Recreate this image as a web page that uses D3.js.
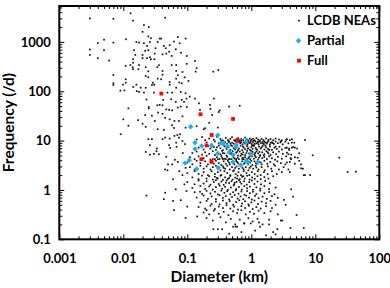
<!DOCTYPE html>
<html>
<head>
<meta charset="utf-8">
<script src="https://cdn.jsdelivr.net/npm/d3@7"></script>
<style>
  body { margin: 0; background: #fff; }
  svg text { font-family: Lato, "Liberation Sans", sans-serif; font-weight: 700; fill: #000; }
</style>
</head>
<body>
<svg id="chart" width="390" height="288"></svg>
<script>
// [diameter km, frequency /d]
const neaPoints = [
  // sparse upper-left
  [0.003,3000],[0.007,2950],[0.013,3800],[0.0142,2700],[0.045,3100],[0.021,2200],[0.025,2000],[0.02,1600],[0.0246,1300],[0.027,1190],
  [0.037,1170],[0.039,1170],[0.071,1260],[0.094,1170],[0.004,950],[0.005,1110],[0.007,970],[0.011,1130],[0.016,1000],[0.0176,970],
  [0.021,940],[0.026,1000],[0.0235,830],[0.032,745],[0.0345,1000],[0.043,830],[0.046,745],[0.053,860],[0.062,1015],[0.076,940],
  [0.066,710],[0.003,700],[0.003,545],[0.005,680],[0.004,470],[0.006,420],[0.0147,680],[0.0154,545],[0.02,545],[0.02,470],
  [0.022,660],[0.0246,680],[0.0235,470],[0.026,490],[0.027,446],[0.0305,446],[0.031,580],[0.041,560],[0.047,580],[0.052,635],
  [0.057,520],[0.08,606],[0.098,520],[0.0142,446],[0.0142,380],[0.0129,340],[0.014,307],[0.0142,280],[0.0109,326],[0.0176,340],
  [0.0172,280],[0.036,337],[0.034,307],[0.0224,307],[0.057,340],[0.067,340],[0.098,360],[0.0246,254],[0.041,258],[0.041,217],
  [0.067,258],[0.071,211],[0.067,180],[0.084,246],[0.091,192],[0.007,214],[0.0109,175],[0.0224,204],[0.0246,192],[0.0345,180],
  [0.039,175],[0.029,149],[0.0305,136],[0.028,134],[0.007,145],[0.007,134],[0.0099,136],[0.016,136],[0.053,154],[0.053,136],
  [0.075,151],[0.082,145],[0.104,162],[0.0109,149],[0.0104,104],
  // middle left
  [0.0143,122],[0.0187,118],[0.0224,118],[0.009,103],[0.0162,101],[0.0176,97],[0.021,94],[0.03,94],[0.049,94],[0.058,94],
  [0.067,118],[0.079,97],[0.094,91],[0.023,68],[0.042,67],[0.056,69],[0.066,61],[0.082,67],[0.089,61],[0.097,71],
  [0.012,45],[0.025,48],[0.025,45],[0.034,52],[0.037,53],[0.041,52],[0.047,43],[0.052,42],[0.058,41],[0.071,47],
  [0.079,49],[0.098,48],[0.035,37],[0.041,35],[0.045,29],[0.022,33],[0.028,32],[0.01,27],[0.017,26],[0.02,22],
  [0.031,25],[0.053,27],[0.063,25],[0.074,25],[0.084,31],[0.012,20],[0.0224,19],[0.0345,17],[0.043,16.5],[0.058,20.5],
  [0.062,18],[0.094,18.3],[0.0091,13.5],[0.0246,10.7],[0.028,10.7],[0.026,8.1],[0.0336,6.9],[0.033,6.1],[0.041,10.7],[0.045,11.5],
  [0.053,11],[0.052,8.1],[0.054,7.1],[0.063,12.5],[0.07,13],[0.074,11.5],[0.077,13.5],[0.067,9.1],[0.068,7.5],[0.084,9.8],
  [0.092,8.5],[0.0224,5.9],[0.026,5.2],[0.03,5.4],[0.036,5.3],[0.047,4.7],[0.064,4.1],[0.071,3.7],[0.058,3.3],
  // above the cluster
  [0.109,78],[0.132,71],[0.152,57],[0.26,71],[0.32,41],[0.66,51],[0.22,23],[0.245,33],[0.3,18.4],[0.18,17],
  [0.14,19.6],[0.23,44],[0.31,38],[0.45,49],[0.255,250],[0.305,270],[0.132,412],[0.14,293],[0.135,250],[0.189,17.8],
  [0.226,53],[0.158,42],
  // right side
  [3.6,10.7],[4.3,10.7],[4.7,9.1],[6.9,10.3],[3.6,7.2],[3.9,6.9],[4.3,7.2],[4.8,7.2],[3.8,5.3],[4.2,4.2],
  [5.3,4.5],[5.6,5.55],[3.6,3.6],[6.0,3.3],[9.1,5.05],[23.7,4.5],[43,2.35],[6.9,2.0],[6.0,2.75],
  // lower left and bottom
  [0.045,2.6],[0.049,2.5],[0.094,2.8],[0.06,1.65],[0.084,2.0],[0.023,0.77],[0.045,0.88],[0.066,1.03],[0.043,0.65],[0.06,0.6],
  [0.062,0.39],[0.097,0.95],[0.079,0.62],[0.1,0.46],[0.094,0.27],[0.05,3.3],[0.075,2.4],[0.085,5.6],[0.09,1.3],
  [4.0,2.3],[6.4,2.7],[6.6,1.99],[8.3,2.0],[32,2.3],[3.24,0.63],[3.45,0.5],[4.2,1.03],[5.1,0.31],[3.05,0.24],
  [4.1,0.17],[6.6,0.17],[2.4,0.126],[2.55,0.16],[1.89,0.2],[1.32,0.22],[1.37,0.18],[0.98,0.21],[0.77,0.21],[0.6,0.18],
  [0.57,0.18],[0.255,0.16],[0.3,0.16],[0.52,0.18],[0.143,0.29],[0.2,0.39],[0.158,0.92],[2.9,0.24],[4.5,0.73],
  // cluster, F 10-12
  [0.14,10.5],[0.17,11.8],[0.19,10.2],[0.22,11],[0.26,10.4],[0.29,12],[0.33,10.8],[0.36,10.1],[0.4,11.4],[0.43,10.3],
  [0.47,10.9],[0.5,11.7],[0.54,10.2],[0.58,10.6],[0.62,11.2],[0.66,10.1],[0.7,10.8],[0.75,10.3],[0.8,11.5],[0.85,10.6],
  [0.9,10.1],[0.95,11],[1.0,10.4],[1.06,10.9],[1.12,10.2],[1.2,11.3],[1.28,10.5],[1.35,10.1],[1.45,10.8],[1.55,10.3],
  [1.7,11.1],[1.85,10.4],[2.0,10.7],[2.2,10.2],[2.4,11],[2.7,10.5],[3.0,10.1],[3.5,10.4],[4.0,10.2],
  // F 8-10
  [0.2,9.2],[0.24,8.4],[0.27,9.6],[0.31,8.8],[0.34,9.9],[0.37,8.2],[0.39,9.3],[0.42,8.6],[0.45,9.7],[0.48,8.1],
  [0.5,9.1],[0.53,8.7],[0.56,9.8],[0.6,8.3],[0.63,9.4],[0.67,8.9],[0.7,9.9],[0.73,8.4],[0.76,9.2],[0.8,8.7],
  [0.83,9.6],[0.87,8.2],[0.9,9.4],[0.94,8.9],[0.98,9.8],[1.02,8.5],[1.06,9.3],[1.1,8.1],[1.15,9.7],[1.2,8.8],
  [1.25,9.4],[1.3,8.3],[1.36,9.9],[1.42,8.9],[1.5,9.5],[1.57,8.4],[1.65,9.1],[1.75,8.7],[1.85,9.8],[1.95,8.3],
  [2.1,9.3],[2.25,8.6],[2.4,9.6],[2.6,8.9],[2.85,9.2],[3.1,8.4],[3.4,9.5],[3.8,8.8],[4.3,9.1],[0.66,9.5],
  [0.88,9.0],[1.08,9.9],[1.27,9.0],[0.47,8.8],[1.6,9.6],[2.0,9.0],
  // F 6.3-8
  [0.15,7.2],[0.18,6.6],[0.21,7.7],[0.23,6.9],[0.26,7.4],[0.28,6.5],[0.31,7.9],[0.33,7.0],[0.36,6.4],[0.38,7.6],
  [0.41,6.8],[0.44,7.3],[0.47,6.5],[0.5,7.8],[0.53,7.0],[0.56,6.6],[0.6,7.5],[0.64,6.9],[0.68,7.9],[0.72,6.4],
  [0.76,7.2],[0.8,6.7],[0.85,7.7],[0.9,7.0],[0.95,6.5],[1.0,7.4],[1.05,6.8],[1.1,7.8],[1.17,7.1],[1.24,6.5],
  [1.32,7.5],[1.4,6.9],[1.5,7.8],[1.6,6.6],[1.7,7.3],[1.82,6.8],[1.95,7.6],[2.1,6.5],[2.3,7.2],[2.5,6.8],
  [2.75,7.5],[3.0,6.6],[3.4,7.1],[3.9,6.5],[4.5,7.4],[5.2,6.9],
  // F 5-6.3
  [0.12,5.6],[0.14,6.0],[0.17,5.2],[0.19,5.8],[0.22,5.4],[0.25,6.1],[0.27,5.1],[0.3,5.7],[0.33,5.3],[0.35,6.2],
  [0.38,5.5],[0.41,5.0],[0.44,5.9],[0.47,5.4],[0.51,6.1],[0.54,5.2],[0.58,5.7],[0.62,5.0],[0.66,6.0],[0.7,5.4],
  [0.75,5.8],[0.8,5.1],[0.86,6.2],[0.92,5.5],[0.98,5.0],[1.05,5.9],[1.12,5.3],[1.2,6.0],[1.28,5.5],[1.38,5.1],
  [1.48,5.8],[1.6,5.3],[1.72,6.1],[1.85,5.5],[2.0,5.1],[2.2,5.8],[2.45,5.3],[2.7,6.0],[3.1,5.4],[3.6,5.7],[4.2,5.2],
  // F 4-5
  [0.11,4.6],[0.13,4.2],[0.15,4.8],[0.18,4.4],[0.2,4.9],[0.23,4.1],[0.25,4.25],[0.27,4.2],[0.29,4.6],[0.3,4.2],
  [0.32,4.25],[0.34,4.9],[0.36,4.2],[0.38,4.3],[0.4,4.2],[0.42,4.7],[0.44,4.2],[0.46,4.25],[0.49,4.2],[0.52,4.8],
  [0.55,4.3],[0.58,4.2],[0.61,4.5],[0.64,4.2],[0.68,4.9],[0.72,4.25],[0.76,4.2],[0.8,4.6],[0.85,4.2],[0.9,4.4],
  [0.96,4.2],[1.02,4.8],[1.1,4.3],[1.18,4.6],[1.27,4.1],[1.37,4.9],[1.48,4.4],[1.6,4.7],[1.75,4.2],[1.9,4.8],
  [2.1,4.4],[2.35,4.1],[2.6,4.7],[3.0,4.3],[3.5,4.8],[4.1,4.4],[4.8,4.6],
  // F 3.2-4
  [0.1,3.6],[0.12,3.3],[0.14,3.9],[0.16,3.5],[0.19,3.8],[0.21,3.3],[0.23,3.7],[0.26,3.4],[0.28,3.9],[0.31,3.5],
  [0.34,3.2],[0.37,3.8],[0.4,3.4],[0.43,3.9],[0.46,3.3],[0.5,3.7],[0.54,3.3],[0.58,3.9],[0.62,3.5],[0.67,3.2],
  [0.72,3.8],[0.77,3.4],[0.83,3.9],[0.89,3.3],[0.96,3.6],[1.04,3.2],[1.12,3.8],[1.22,3.4],[1.33,3.7],[1.45,3.3],
  [1.6,3.9],[1.78,3.4],[1.98,3.7],[2.25,3.3],[2.55,3.8],[2.9,3.5],[3.4,3.3],[4.0,3.7],[4.8,3.4],[5.6,3.9],
  // F 2.5-3.2
  [0.11,2.9],[0.13,2.6],[0.16,3.1],[0.18,2.7],[0.2,3.0],[0.23,2.6],[0.25,2.9],[0.28,3.1],[0.3,2.7],[0.33,2.5],
  [0.36,3.0],[0.39,2.7],[0.42,3.1],[0.46,2.6],[0.5,2.9],[0.54,2.5],[0.59,3.0],[0.64,2.7],[0.7,3.1],[0.76,2.6],
  [0.82,2.9],[0.9,2.5],[0.98,3.0],[1.07,2.7],[1.17,3.1],[1.3,2.6],[1.45,2.9],[1.62,2.5],[1.82,3.0],[2.05,2.7],
  [2.35,3.1],[2.7,2.6],[3.2,2.9],[3.8,2.6],
  // F 2-2.5
  [0.1,2.2],[0.13,2.4],[0.15,2.1],[0.18,2.3],[0.21,2.0],[0.24,2.4],[0.27,2.1],[0.3,2.3],[0.34,2.0],[0.38,2.4],
  [0.42,2.2],[0.47,2.0],[0.52,2.4],[0.57,2.1],[0.63,2.3],[0.69,2.0],[0.76,2.4],[0.84,2.2],[0.93,2.0],[1.02,2.3],
  [1.13,2.1],[1.26,2.4],[1.4,2.0],[1.58,2.3],[1.8,2.1],[2.1,2.4],[2.5,2.1],[3.0,2.3],
  // F 1.6-2
  [0.12,1.8],[0.15,1.65],[0.17,1.95],[0.2,1.7],[0.22,1.9],[0.25,1.62],[0.27,1.85],[0.3,1.7],[0.33,1.95],[0.36,1.6],
  [0.39,1.8],[0.43,1.68],[0.47,1.92],[0.51,1.62],[0.56,1.78],[0.61,1.95],[0.66,1.65],[0.72,1.85],[0.79,1.7],[0.86,1.94],
  [0.94,1.62],[1.03,1.8],[1.13,1.68],[1.25,1.9],[1.4,1.65],[1.6,1.82],[1.85,1.7],[2.2,1.9],
  // F 1.25-1.6
  [0.1,1.45],[0.13,1.3],[0.15,1.55],[0.18,1.35],[0.2,1.5],[0.23,1.28],[0.26,1.45],[0.28,1.58],[0.31,1.32],[0.34,1.48],
  [0.37,1.27],[0.41,1.55],[0.45,1.38],[0.49,1.5],[0.54,1.3],[0.59,1.46],[0.64,1.58],[0.7,1.34],[0.77,1.5],[0.85,1.28],
  [0.93,1.44],[1.02,1.56],[1.12,1.32],[1.25,1.48],[1.42,1.3],[1.65,1.52],[1.95,1.36],
  // F 1-1.25
  [0.12,1.1],[0.16,1.2],[0.19,1.05],[0.22,1.18],[0.25,1.02],[0.28,1.14],[0.32,1.22],[0.35,1.06],[0.39,1.16],[0.43,1.0],
  [0.48,1.12],[0.53,1.24],[0.58,1.04],[0.64,1.15],[0.71,1.02],[0.78,1.2],[0.86,1.08],[0.95,1.17],[1.06,1.01],[1.2,1.13],
  [1.38,1.06],[1.6,1.2],[1.9,1.04],[2.4,1.12],
  // F 0.8-1
  [0.13,0.9],[0.17,0.83],[0.2,0.96],[0.23,0.85],[0.27,0.92],[0.3,0.81],[0.34,0.97],[0.38,0.87],[0.42,0.94],[0.47,0.82],
  [0.52,0.9],[0.57,0.98],[0.63,0.84],[0.7,0.93],[0.78,0.8],[0.86,0.95],[0.95,0.86],[1.06,0.92],[1.2,0.83],[1.38,0.97],
  [1.6,0.86],[1.9,0.91],[2.3,0.82],
  // F 0.63-0.8
  [0.14,0.7],[0.18,0.77],[0.21,0.66],[0.24,0.74],[0.28,0.65],[0.32,0.78],[0.36,0.69],[0.4,0.75],[0.45,0.64],[0.5,0.72],
  [0.55,0.79],[0.61,0.67],[0.68,0.74],[0.75,0.65],[0.83,0.77],[0.92,0.7],[1.02,0.64],[1.14,0.76],[1.3,0.68],[1.5,0.73],
  [1.75,0.66],[2.1,0.75],[2.6,0.69],
  // F 0.5-0.63
  [0.16,0.56],[0.2,0.6],[0.24,0.52],[0.28,0.58],[0.32,0.51],[0.36,0.61],[0.41,0.54],[0.46,0.59],[0.52,0.5],[0.58,0.57],
  [0.65,0.62],[0.72,0.53],[0.8,0.59],[0.9,0.51],[1.0,0.56],[1.12,0.61],[1.27,0.52],[1.45,0.58],[1.7,0.54],[2.0,0.6],[2.4,0.5],
  // F 0.4-0.5
  [0.15,0.45],[0.19,0.42],[0.23,0.48],[0.27,0.41],[0.31,0.46],[0.36,0.43],[0.41,0.49],[0.47,0.42],[0.54,0.46],[0.62,0.4],
  [0.7,0.47],[0.8,0.43],[0.92,0.48],[1.05,0.41],[1.2,0.45],[1.4,0.42],[1.7,0.47],[2.1,0.43],
  // F 0.3-0.4
  [0.18,0.35],[0.22,0.32],[0.26,0.38],[0.31,0.33],[0.37,0.36],[0.44,0.31],[0.52,0.37],[0.6,0.34],[0.7,0.39],[0.82,0.32],
  [0.95,0.36],[1.1,0.33],[1.3,0.38],[1.6,0.34],[2.0,0.37],[2.6,0.32],
  // F 0.1-0.3
  [0.2,0.27],[0.25,0.24],[0.33,0.28],[0.4,0.22],[0.48,0.26],[0.56,0.2],[0.66,0.25],[0.78,0.21],[0.9,0.27],[1.05,0.23],
  [1.25,0.26],[1.5,0.2],[1.9,0.25],[0.35,0.16],[0.45,0.13],[0.7,0.14],[1.15,0.15],[1.7,0.12],[2.2,0.14],
  // denser core
  [0.32,9.0],[0.44,9.4],[0.57,8.6],[0.69,9.2],[0.82,9.9],[0.97,9.2],[1.13,8.6],[1.33,9.5],[1.52,8.8],[1.78,9.3],
  [2.15,8.9],[2.9,9.7],[0.29,7.3],[0.41,7.5],[0.55,7.4],[0.62,6.4],[0.74,7.6],[0.88,6.9],[1.03,7.9],[1.2,6.7],
  [1.45,7.3],[1.66,7.9],[1.9,6.5],[2.4,7.6],[0.36,5.6],[0.49,5.6],[0.6,5.9],[0.73,5.2],[0.84,5.6],[1.0,6.2],
  [1.15,5.6],[1.34,5.9],[1.56,5.0],[1.8,5.8],[0.35,4.5],[0.53,4.5],[0.74,4.5],[0.93,4.7],[1.14,4.9],[1.32,4.5],
  [0.45,3.6],[0.6,3.7],[0.8,3.6],[1.0,3.9],[1.18,3.5],[1.4,3.6],[0.37,2.8],[0.56,2.8],[0.73,2.8],[0.94,2.8],
  [1.2,2.85],[0.29,1.75],[0.45,1.75],[0.6,1.7],[0.75,1.9],[0.4,1.4],[0.55,1.4],[0.67,1.45]
];

const partialPoints = [
  [0.113,19.2],[0.132,9.1],[0.132,6.8],[0.168,7.8],[0.092,3.5],[0.107,4.0],[0.14,2.67],[0.24,7.9],[0.299,12.9],[0.299,5.5],
  [0.305,2.83],[0.337,8.85],[0.365,8.85],[0.42,7.8],[0.45,5.8],[0.52,5.1],[0.52,3.65],[0.577,8.3],[0.577,7.45],[0.68,3.2],
  [0.83,9.5],[0.83,3.8],[0.89,3.65],[0.99,5.3],[1.26,3.65]
];

const fullPoints = [
  [0.0393,89.7],[0.161,34.2],[0.518,27.5],[0.24,13],[0.611,10],[0.2,8],[0.166,4.2],[0.24,3.7]
];

const xTicks = [0.001, 0.01, 0.1, 1, 10, 100];
const xTickLabels = ["0.001", "0.01", "0.1", "1", "10", "100"];
const yTicks = [0.1, 1, 10, 100, 1000];
const yTickLabels = ["0.1", "1", "10", "100", "1000"];
const seriesNames = ["LCDB NEAs", "Partial", "Full"];

const svg = d3.select("#chart");
const L = 59.3, R = 379.3, T = 6, B = 239.3;

const x = d3.scaleLog().domain([0.001, 100]).range([L, R]);
const y = d3.scaleLog().domain([0.1, 5350]).range([B, T]);

const xMinor = x.ticks().filter(d => !xTicks.some(t => Math.abs(t - d) / t < 1e-6));
const yMinor = y.ticks().filter(d => !yTicks.some(t => Math.abs(t - d) / t < 1e-6));

function axisStyle(g) {
  g.select(".domain").remove();
  g.selectAll(".tick line").attr("stroke", "#000").attr("stroke-width", 1);
  g.selectAll(".tick text").attr("font-size", 13).attr("font-family", null);
}

// major ticks with labels
svg.append("g").attr("transform", `translate(0,${B})`)
  .call(d3.axisBottom(x).tickValues(xTicks).tickFormat((d, i) => xTickLabels[i]).tickSizeInner(-5).tickSizeOuter(0).tickPadding(14))
  .call(axisStyle);
svg.append("g").attr("transform", `translate(${L},0)`)
  .call(d3.axisLeft(y).tickValues(yTicks).tickFormat((d, i) => yTickLabels[i]).tickSizeInner(-5).tickSizeOuter(0).tickPadding(8.5))
  .call(axisStyle);

// minor ticks and mirrored ticks
const noLabel = () => "";
[[d3.axisBottom(x), B, xTicks, xMinor, true], [d3.axisTop(x), T, xTicks, xMinor, true],
 [d3.axisLeft(y), L, yTicks, yMinor, false], [d3.axisRight(y), R, yTicks, yMinor, false]]
  .forEach(([ax, pos, major, minor, horiz], i) => {
    const tr = horiz ? `translate(0,${pos})` : `translate(${pos},0)`;
    svg.append("g").attr("transform", tr)
      .call(ax.tickValues(minor).tickFormat(noLabel).tickSizeInner(-3).tickSizeOuter(0))
      .call(axisStyle);
    if (i === 1 || i === 3) {
      const ax2 = horiz ? d3.axisTop(x) : d3.axisRight(y);
      svg.append("g").attr("transform", tr)
        .call(ax2.tickValues(major).tickFormat(noLabel).tickSizeInner(-5).tickSizeOuter(0))
        .call(axisStyle);
    }
  });

// points
svg.append("g").selectAll("rect").data(neaPoints).join("rect")
  .attr("x", d => x(d[0]) - 0.85).attr("y", d => y(d[1]) - 0.85)
  .attr("width", 1.7).attr("height", 1.7).attr("fill", "#111");

const diamond = d3.symbol().type(d3.symbolSquare).size(15);
svg.append("g").selectAll("path").data(partialPoints).join("path")
  .attr("d", diamond)
  .attr("transform", d => `translate(${x(d[0])},${y(d[1])}) rotate(45)`)
  .attr("fill", "#1ab0ea");

svg.append("g").selectAll("rect").data(fullPoints).join("rect")
  .attr("x", d => x(d[0]) - 1.9).attr("y", d => y(d[1]) - 1.9)
  .attr("width", 3.8).attr("height", 3.8).attr("fill", "#ff0000");

// frame
svg.append("rect").attr("x", L).attr("y", T).attr("width", R - L).attr("height", B - T)
  .attr("fill", "none").attr("stroke", "#000").attr("stroke-width", 2);

// legend
const legend = svg.append("g").attr("transform", "translate(299,0)");
const rowY = [20.7, 40.7, 60.7];
legend.append("rect").attr("x", -0.85).attr("y", rowY[0] - 0.85).attr("width", 1.7).attr("height", 1.7).attr("fill", "#111");
legend.append("path").attr("d", diamond).attr("transform", `translate(-0.5,${rowY[1]}) rotate(45)`).attr("fill", "#1ab0ea");
legend.append("rect").attr("x", -1.9).attr("y", rowY[2] - 1.9).attr("width", 3.8).attr("height", 3.8).attr("fill", "#ff0000");
legend.selectAll("text").data(seriesNames).join("text")
  .attr("x", 8).attr("y", (d, i) => rowY[i]).attr("dy", "0.36em")
  .attr("font-size", 13).text(d => d);

// axis titles
svg.append("text").attr("x", (L + R) / 2).attr("y", 282).attr("text-anchor", "middle")
  .attr("font-size", 15.5).text("Diameter (km)");
svg.append("text").attr("transform", `translate(13.5,${(T + B) / 2}) rotate(-90)`).attr("text-anchor", "middle")
  .attr("font-size", 15.5).text("Frequency (/d)");
</script>
</body>
</html>
